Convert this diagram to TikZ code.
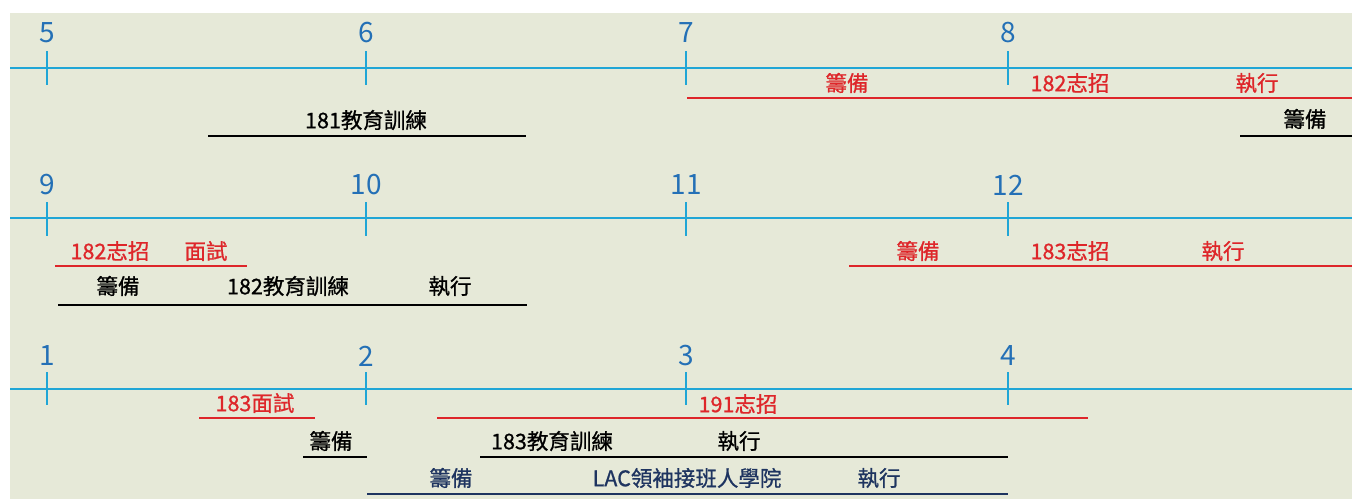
\documentclass[tikz,border=0pt]{standalone}
\usepackage{fontspec}
\setmainfont{Noto Sans CJK TC}
\newfontfamily\lblfont[FakeBold=0.9]{Noto Sans CJK TC}
\definecolor{bgcol}{RGB}{230,233,216}
\definecolor{axiscol}{RGB}{32,166,214}
\definecolor{numcol}{RGB}{36,112,182}
\definecolor{redcol}{RGB}{222,38,42}
\definecolor{navycol}{RGB}{30,52,96}
\begin{document}
\begin{tikzpicture}[x=1pt,y=-1pt,
  axisln/.style={draw=axiscol, line width=2.2pt},
  tickln/.style={draw=axiscol, line width=2pt},
  num/.style={text=numcol, font=\fontsize{28}{28}\selectfont, inner sep=0pt},
  lbl/.style={font=\lblfont\fontsize{21.5}{22}\selectfont, inner sep=0pt},
  rlbl/.style={lbl, text=redcol},
  klbl/.style={lbl, text=black},
  nlbl/.style={lbl, text=navycol},
  rbar/.style={draw=redcol, line width=2.2pt},
  kbar/.style={draw=black, line width=2.2pt},
  nbar/.style={draw=navycol, line width=2.2pt}]
\useasboundingbox (0,0) rectangle (1352,499);
\fill[white] (0,0) rectangle (1352,499);
\fill[bgcol] (10,13) rectangle (1352,499);

% ---------- Row 1 (months 5-8) ----------
\coordinate (a1L) at (10,68); \coordinate (a1R) at (1352,68);
\draw[axisln] (a1L) -- (a1R);
\foreach \x/\n [count=\i] in {47/5,366/6,686/7,1008/8}{
  \coordinate (t1\i a) at (\x,51); \coordinate (t1\i b) at (\x,85);
  \draw[tickln] (t1\i a) -- (t1\i b);
  \node[num] (n1\i) at (\x,33) {\n};
}
\coordinate (r1a) at (687,98); \coordinate (r1b) at (1352,98);
\draw[rbar] (r1a) -- (r1b);
\node[rlbl] (l11) at (847,83) {籌備};
\node[rlbl] (l12) at (1070,83) {182志招};
\node[rlbl] (l13) at (1257,83) {執行};
\coordinate (k1a) at (208,136); \coordinate (k1b) at (526,136);
\draw[kbar] (k1a) -- (k1b);
\node[klbl] (l14) at (366,120) {181教育訓練};
\coordinate (k2a) at (1240,136); \coordinate (k2b) at (1352,136);
\draw[kbar] (k2a) -- (k2b);
\node[klbl] (l15) at (1305,119) {籌備};

% ---------- Row 2 (months 9-12) ----------
\coordinate (a2L) at (10,218); \coordinate (a2R) at (1352,218);
\draw[axisln] (a2L) -- (a2R);
\foreach \x/\n [count=\i] in {47/9,366/10,686/11,1008/12}{
  \coordinate (t2\i a) at (\x,202); \coordinate (t2\i b) at (\x,236);
  \draw[tickln] (t2\i a) -- (t2\i b);
  \node[num] (n2\i) at (\x,185) {\n};
}
\coordinate (r2a) at (55,266); \coordinate (r2b) at (247,266);
\draw[rbar] (r2a) -- (r2b);
\node[rlbl] (l21) at (110,251) {182志招};
\node[rlbl] (l22) at (206,251) {面試};
\coordinate (k3a) at (58,305); \coordinate (k3b) at (527,305);
\draw[kbar] (k3a) -- (k3b);
\node[klbl] (l23) at (118,286) {籌備};
\node[klbl] (l24) at (288,286) {182教育訓練};
\node[klbl] (l25) at (450,286) {執行};
\coordinate (r3a) at (849,266); \coordinate (r3b) at (1352,266);
\draw[rbar] (r3a) -- (r3b);
\node[rlbl] (l26) at (918,251) {籌備};
\node[rlbl] (l27) at (1070,251) {183志招};
\node[rlbl] (l28) at (1223,251) {執行};

% ---------- Row 3 (months 1-4) ----------
\coordinate (a3L) at (10,389); \coordinate (a3R) at (1352,389);
\draw[axisln] (a3L) -- (a3R);
\foreach \x/\n [count=\i] in {47/1,366/2,686/3,1008/4}{
  \coordinate (t3\i a) at (\x,372); \coordinate (t3\i b) at (\x,405);
  \draw[tickln] (t3\i a) -- (t3\i b);
  \node[num] (n3\i) at (\x,356) {\n};
}
\coordinate (r4a) at (199,418); \coordinate (r4b) at (315,418);
\draw[rbar] (r4a) -- (r4b);
\node[rlbl] (l31) at (255,403) {183面試};
\coordinate (k4a) at (303,457); \coordinate (k4b) at (367,457);
\draw[kbar] (k4a) -- (k4b);
\node[klbl] (l32) at (331,441) {籌備};
\coordinate (r5a) at (437,418); \coordinate (r5b) at (1088,418);
\draw[rbar] (r5a) -- (r5b);
\node[rlbl] (l33) at (738,404) {191志招};
\coordinate (k5a) at (480,457); \coordinate (k5b) at (1008,457);
\draw[kbar] (k5a) -- (k5b);
\node[klbl] (l34) at (552,441) {183教育訓練};
\node[klbl] (l35) at (739,441) {執行};
\coordinate (v1a) at (367,494); \coordinate (v1b) at (1008,494);
\draw[nbar] (v1a) -- (v1b);
\node[nlbl] (l36) at (451,478) {籌備};
\node[nlbl] (l37) at (687,478) {LAC領袖接班人學院};
\node[nlbl] (l38) at (879,478) {執行};
\end{tikzpicture}
\end{document}
